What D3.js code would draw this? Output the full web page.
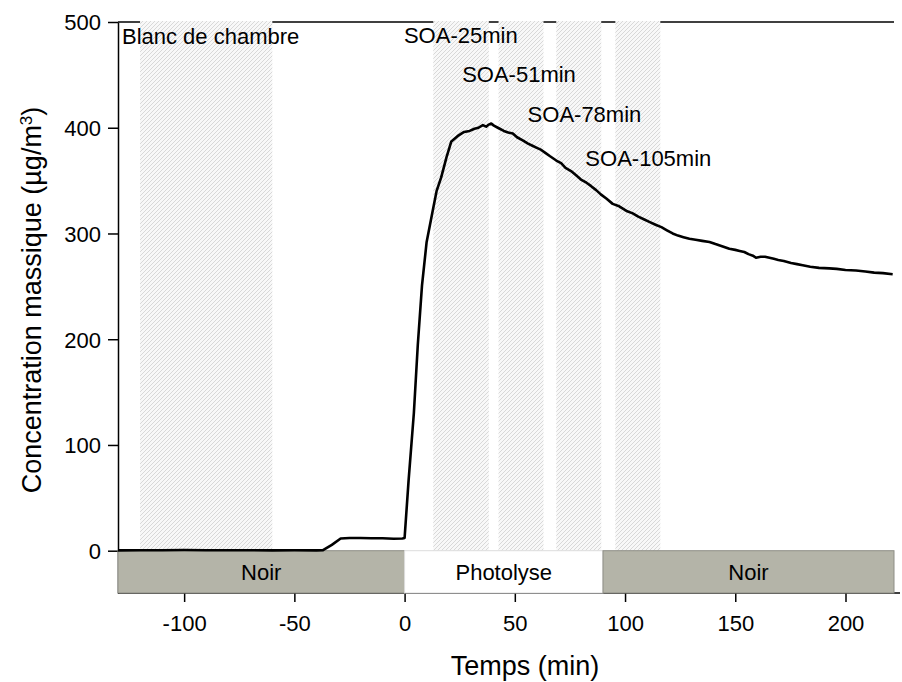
<!DOCTYPE html>
<html>
<head>
<meta charset="utf-8">
<script src="https://cdn.jsdelivr.net/npm/d3@7"></script>
<style>
  html, body { margin: 0; padding: 0; background: #fff; }
  svg text { font-family: "Liberation Sans", Arial, Helvetica, sans-serif; fill: #000; }
</style>
</head>
<body>
<svg id="chart" width="902" height="682"></svg>
<script>
// ---- data ----
const timeMin = [-130, -120, -110, -100, -90, -80, -70, -60, -50, -40, -37, -33, -29, -25, -20, -15, -10, -5, -1,
  0, 1.8, 4.2, 6, 7.9, 10, 12.8, 14.5, 16.6, 19, 21.2, 24, 27, 29.5, 31.7, 33.5, 35.5, 37, 38.2, 39.3, 40.5, 42.3, 45, 47, 49.1,
  51, 53.6, 56, 58, 60, 62, 64, 66, 68.8, 71, 73, 75.5, 77.8, 80, 82.5, 84.5, 86.9, 89, 91.5, 94.4, 97, 99, 101, 103.5,
  106, 108.5, 111, 114.1, 116.5, 119, 121.6, 124, 126.5, 129.2, 132, 135, 138.3, 141, 144, 147.3, 150, 152, 154.1,
  156, 158, 159.4, 161.5, 163.5, 165.5, 167.5, 169.5, 172, 175.3, 178, 180.6, 184, 188, 192.7, 196, 200, 204.8, 209, 213, 217, 221.4];
const massConc = [0.3, 0.5, 0.4, 0.6, 0.5, 0.4, 0.5, 0.3, 0.4, 0.3, 0.5, 5.5, 11.5, 12, 12, 11.8, 11.8, 11.3, 11.5,
  12, 66, 130, 195, 251, 292, 322, 340, 353, 372, 387, 392, 396, 397, 399, 400, 402.5, 401, 403, 404, 402, 400, 397, 395.5, 394.5,
  391, 388, 385, 383, 381, 379, 376, 373, 369, 366.5, 362, 359, 355, 351, 348, 345, 341, 337, 333, 328, 326, 323.5, 321, 319,
  316, 313.5, 311, 308, 306, 303, 300, 298, 296.5, 295, 294, 293, 292, 290, 288, 285.5, 284.5, 283.5, 282.5,
  280.5, 279, 277, 278, 278, 277, 276, 275, 274, 272, 271, 270, 268.5, 267.5, 267, 266.5, 265.5, 265, 264, 263, 262.5, 261.5];

// sampling periods (hatched bands)
const bandStart = [-120, 13, 42.6, 68.8, 95.6];
const bandEnd   = [-60, 38.2, 63, 89.2, 116];

// annotations
const annoText = ["Blanc de chambre", "SOA-25min", "SOA-51min", "SOA-78min", "SOA-105min"];
const annoT    = [-128.2, -0.3, 26.1, 55.8, 82];
const annoV    = [479, 480, 443, 405.7, 364];

// light conditions
const phaseLabel = ["Noir", "Photolyse", "Noir"];
const phaseStart = [-130, 0, 90];
const phaseEnd   = [0, 90, 222];
const phaseDark  = [true, false, true];

const xTicks = [-100, -50, 0, 50, 100, 150, 200];
const yTicks = [0, 100, 200, 300, 400, 500];

// ---- layout ----
const svg = d3.select("#chart");
const margin = {left: 118, right: 8, top: 22, bottom: 89};
const W = 902, H = 682;
const x = d3.scaleLinear().domain([-130, 222]).range([margin.left, W - margin.right]);
const y = d3.scaleLinear().domain([-40, 500]).range([H - margin.bottom, margin.top]);

// hatch pattern
const defs = svg.append("defs");
const pat = defs.append("pattern")
  .attr("id", "hatch").attr("patternUnits", "userSpaceOnUse")
  .attr("width", 4).attr("height", 4);
pat.append("rect").attr("width", 4).attr("height", 4).attr("fill", "#f8f8f8");
pat.append("path").attr("d", "M-1,1 l2,-2 M0,4 l4,-4 M3,5 l2,-2")
  .attr("stroke", "#d8d8d8").attr("stroke-width", 1);

// top frame line
svg.append("line")
  .attr("x1", x(-130)).attr("x2", x(222))
  .attr("y1", y(500)).attr("y2", y(500))
  .attr("stroke", "#000").attr("stroke-width", 1.5);

// bands
svg.append("g").selectAll("rect").data(bandStart).join("rect")
  .attr("x", (d) => x(d))
  .attr("width", (d, i) => x(bandEnd[i]) - x(d))
  .attr("y", y(500) - 1)
  .attr("height", y(0) - y(500) + 1)
  .attr("fill", "url(#hatch)");

// axes
const xAxis = d3.axisBottom(x).tickValues(xTicks).tickSize(9).tickSizeOuter(0).tickFormat((d) => String(d));
const gx = svg.append("g").attr("transform", `translate(0,${y(-40)})`).call(xAxis);
gx.select(".domain").attr("stroke-width", 1.5).attr("d", `M${x(-130)},0H${W - 2}`);
gx.selectAll(".tick line").attr("stroke-width", 1.5);
gx.selectAll("text").attr("font-size", 22).attr("dy", "1.2em").style("font-family", "Liberation Sans, Arial, sans-serif");

const yAxis = d3.axisLeft(y).tickValues(yTicks).tickSize(10).tickSizeOuter(0).tickFormat((d) => String(d));
const gy = svg.append("g").attr("transform", `translate(${x(-130)},0)`).call(yAxis);
gy.select(".domain").attr("stroke-width", 1.5);
gy.selectAll(".tick line").attr("stroke-width", 1.5);
gy.selectAll("text").attr("font-size", 22).attr("x", -17).attr("dy", "0.36em").style("font-family", "Liberation Sans, Arial, sans-serif");

// phase bars
const phases = svg.append("g");
phases.selectAll("rect").data(phaseLabel).join("rect")
  .attr("x", (d, i) => x(phaseStart[i]))
  .attr("width", (d, i) => x(phaseEnd[i]) - x(phaseStart[i]))
  .attr("y", y(0))
  .attr("height", y(-40) - y(0))
  .attr("fill", (d, i) => phaseDark[i] ? "#b4b4a8" : "#ffffff")
  .attr("stroke", (d, i) => phaseDark[i] ? "#8e8e86" : "#dddddd")
  .attr("stroke-width", 1);
phases.selectAll("text").data(phaseLabel).join("text")
  .attr("x", (d, i) => x((phaseStart[i] + phaseEnd[i]) / 2))
  .attr("y", y(-20))
  .attr("dy", "0.36em")
  .attr("text-anchor", "middle")
  .attr("font-size", 22)
  .text((d) => d);

// curve
const pts = timeMin.map((t, i) => [t, massConc[i]]);
svg.append("path")
  .datum(pts)
  .attr("fill", "none")
  .attr("stroke", "#000")
  .attr("stroke-width", 2.6)
  .attr("stroke-linejoin", "round")
  .attr("d", d3.line().x((d) => x(d[0])).y((d) => y(d[1])));

// annotations
svg.append("g").selectAll("text").data(annoText).join("text")
  .attr("x", (d, i) => x(annoT[i]))
  .attr("y", (d, i) => y(annoV[i]))
  .attr("font-size", 22)
  .text((d) => d);

// axis titles
svg.append("text")
  .attr("x", 525).attr("y", 675)
  .attr("text-anchor", "middle")
  .attr("font-size", 27)
  .text("Temps (min)");

const yt = svg.append("text")
  .attr("transform", `translate(41,300) rotate(-90)`)
  .attr("text-anchor", "middle")
  .attr("font-size", 27);
yt.append("tspan").text("Concentration massique (µg/m");
yt.append("tspan").attr("baseline-shift", "super").attr("font-size", 17).text("3");
yt.append("tspan").text(")");
</script>
</body>
</html>
